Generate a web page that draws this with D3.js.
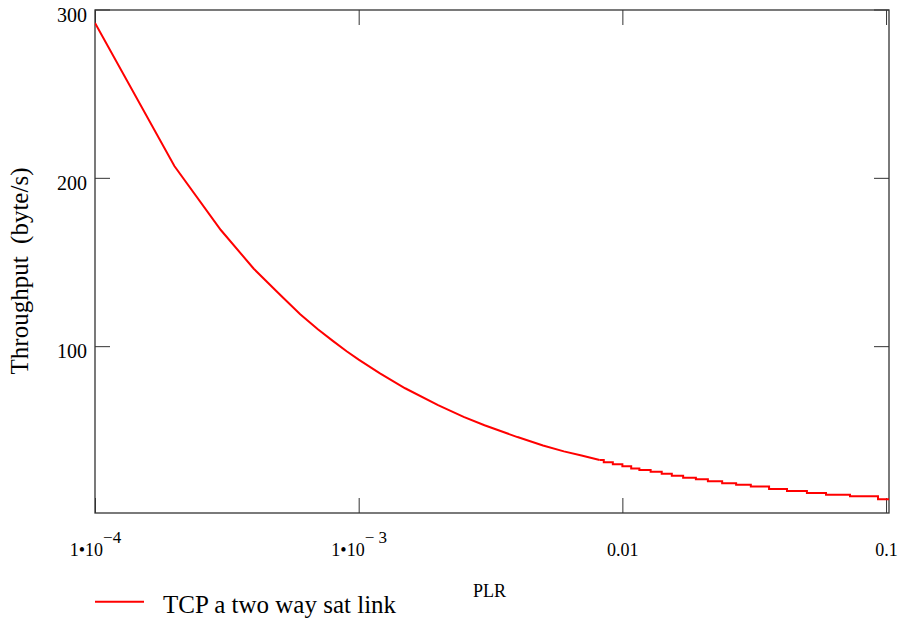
<!DOCTYPE html>
<html>
<head>
<meta charset="utf-8">
<script src="https://cdn.jsdelivr.net/npm/d3@7"></script>
<style>
    body { margin: 0; background: #fff; }
    text { font-family: "Liberation Serif", "DejaVu Serif", serif; fill: #000; }
</style>
</head>
<body>
<svg id="canvas" width="906" height="621"></svg>
<script>
// smooth part of the curve (PLR, byte/s)
const plrSmooth = [1e-4, 2e-4, 3e-4, 4e-4, 5e-4, 6e-4, 7e-4, 8e-4, 9e-4, 1e-3,
    1.2e-3, 1.5e-3, 2e-3, 2.5e-3, 3e-3, 4e-3, 5e-3, 6e-3, 7e-3, 8.2e-3]
const tputSmooth = [292, 207, 169, 146, 131, 119, 110, 103, 97, 92,
    84, 75, 65, 58, 53, 46, 41, 37.5, 35, 32.4]

// stepped tail, each value holds until the next PLR
const plrStep = [0.0082, 0.0085, 0.0092, 0.0100, 0.0108, 0.0116, 0.0128, 0.0141, 0.0154, 0.0170,
    0.0190, 0.0211, 0.0239, 0.0270, 0.0307, 0.0360, 0.0421, 0.0501, 0.0592, 0.0730, 0.0932, 0.1026]
const tputStep = [32.4, 31.0, 29.8, 28.6, 27.4, 26.5, 25.4, 24.2, 23.0, 21.8,
    20.9, 19.7, 18.6, 17.7, 16.7, 15.1, 13.9, 12.8, 11.8, 10.8, 9.0, 9.0]

const xTicks = [1e-4, 1e-3, 0.01, 0.1]
const xTickBase = ['1\u202210', '1\u202210', '0.01', '0.1']
const xTickExp = ['\u22124', '\u2212 3', '', '']
const yTicks = [100, 200, 300]

const seriesName = 'TCP a two way sat link'

let canvas = d3.select('#canvas')

const plotLeft = 95, plotRight = 889, plotTop = 10, plotBottom = 513

let xScale = d3.scaleLog().domain([1e-4, 0.1026]).range([plotLeft, plotRight])
let yScale = d3.scaleLinear().domain([0, 300]).range([514.5, 9.5])

canvas.append('clipPath').attr('id', 'clip')
    .append('rect')
    .attr('x', plotLeft).attr('y', plotTop)
    .attr('width', plotRight - plotLeft).attr('height', plotBottom - plotTop)

// y axes, ticks pointing inward
let yAxisLeft = d3.axisLeft(yScale).tickValues(yTicks).tickSize(-15).tickPadding(8)
let gyl = canvas.append('g').attr('transform', `translate(${plotLeft},0)`).call(yAxisLeft)
gyl.selectAll('text').attr('font-size', 20).attr('dy', '0.58em')

let yAxisRight = d3.axisRight(yScale).tickValues(yTicks).tickSize(-15).tickFormat('')
canvas.append('g').attr('transform', `translate(${plotRight},0)`).call(yAxisRight)

// x axes
let xAxisBottom = d3.axisBottom(xScale).tickValues(xTicks).tickSize(-15).tickPadding(30)
    .tickFormat((d, i) => xTickBase[i])
let gxb = canvas.append('g').attr('transform', `translate(0,${plotBottom})`).call(xAxisBottom)
gxb.selectAll('text')
    .attr('font-size', 18)
    .each(function (d, i) {
        if (xTickExp[i]) {
            d3.select(this).append('tspan')
                .attr('dy', -13)
                .attr('font-size', 17)
                .text(xTickExp[i])
        }
    })

let xAxisTop = d3.axisTop(xScale).tickValues(xTicks).tickSize(-15).tickFormat('')
canvas.append('g').attr('transform', `translate(0,${plotTop})`).call(xAxisTop)

canvas.selectAll('.domain').remove()
canvas.selectAll('.tick line').attr('stroke', '#333').attr('stroke-width', 1)

// frame
canvas.append('rect')
    .attr('x', plotLeft).attr('y', plotTop)
    .attr('width', plotRight - plotLeft).attr('height', plotBottom - plotTop)
    .attr('fill', 'none')
    .attr('stroke', '#333')
    .attr('stroke-width', 1.3)

// curve
let smoothLine = d3.line()
    .x((d, i) => xScale(plrSmooth[i]))
    .y(d => yScale(d))

let stepLine = d3.line()
    .curve(d3.curveStepAfter)
    .x((d, i) => xScale(plrStep[i]))
    .y(d => yScale(d))

let plot = canvas.append('g').attr('clip-path', 'url(#clip)')

plot.append('path')
    .attr('d', smoothLine(tputSmooth))
    .attr('fill', 'none')
    .attr('stroke', '#ff0000')
    .attr('stroke-width', 2)

plot.append('path')
    .attr('d', stepLine(tputStep))
    .attr('fill', 'none')
    .attr('stroke', '#ff0000')
    .attr('stroke-width', 2)

// axis titles
canvas.append('text')
    .attr('transform', 'translate(27.5,271) rotate(-90)')
    .attr('text-anchor', 'middle')
    .attr('font-size', 25)
    .style('white-space', 'pre')
    .text('Throughput  (byte/s)')

canvas.append('text')
    .attr('x', 489.5).attr('y', 597)
    .attr('text-anchor', 'middle')
    .attr('font-size', 18)
    .text('PLR')

// legend
canvas.append('line')
    .attr('x1', 95).attr('x2', 144)
    .attr('y1', 601.7).attr('y2', 601.7)
    .attr('stroke', '#ff0000')
    .attr('stroke-width', 2)

canvas.append('text')
    .attr('x', 163).attr('y', 613)
    .attr('font-size', 25)
    .text(seriesName)
</script>
</body>
</html>
